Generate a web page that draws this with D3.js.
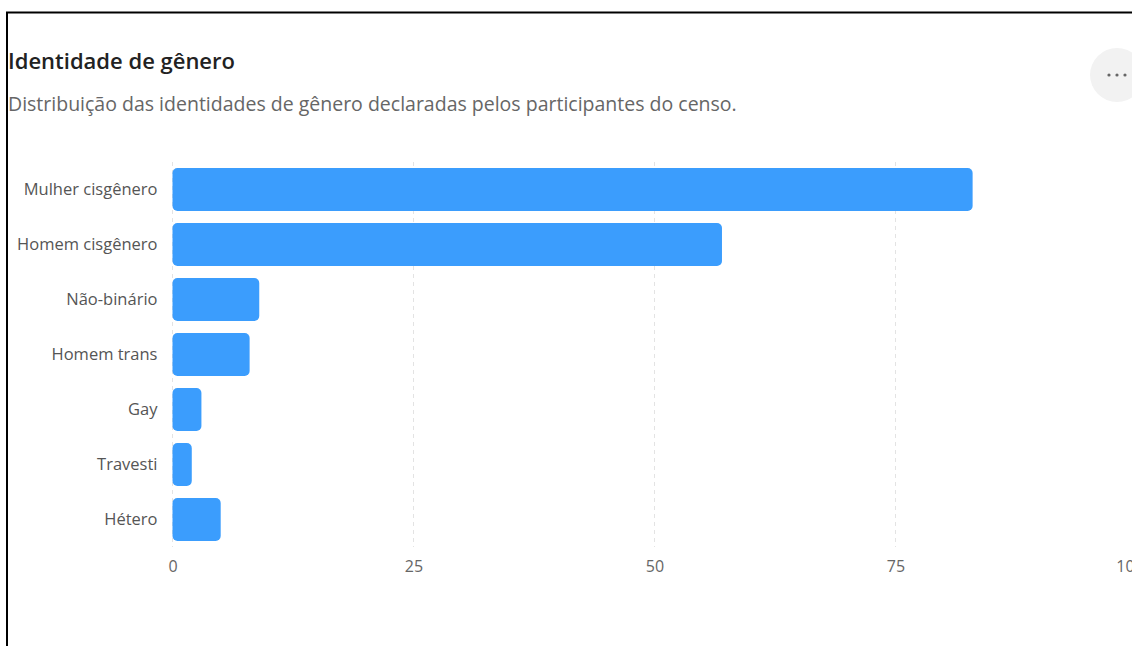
<!DOCTYPE html>
<html>
<head>
<meta charset="utf-8">
<script src="https://cdn.jsdelivr.net/npm/d3@7"></script>
<style>
  html, body { margin: 0; padding: 0; background: #fff; overflow: hidden; }
  svg { display: block; font-family: "Open Sans", "Noto Sans", sans-serif; }
</style>
</head>
<body>
<script>
const categories = ['Mulher cisgênero', 'Homem cisgênero', 'Não-binário', 'Homem trans', 'Gay', 'Travesti', 'Hétero']
const counts = [83, 57, 9, 8, 3, 2, 5]
const xTicks = [0, 25, 50, 75, 100]

const title = 'Identidade de gênero'
const subtitle = 'Distribuição das identidades de gênero declaradas pelos participantes do censo.'

const width = 1132
const height = 646
const plot = { left: 172.5, right: 1136.5, top: 162, bottom: 547 }

const svg = d3.select('body').append('svg')
    .attr('width', width)
    .attr('height', height)

// card frame (only top and left edges are in view)
svg.append('path')
    .attr('d', `M7,${height + 5} V12.5 H${width + 5}`)
    .style('fill', 'none')
    .style('stroke', '#000')
    .style('stroke-width', 2)

svg.append('text')
    .attr('x', 8)
    .attr('y', 69)
    .style('font-size', '22px')
    .style('font-weight', 600)
    .style('fill', '#222')
    .text(title)

svg.append('text')
    .attr('x', 8)
    .attr('y', 111)
    .style('font-size', '19.5px')
    .style('fill', '#666')
    .text(subtitle)

// "more" button
const more = svg.append('g').attr('transform', 'translate(1117, 75)')
more.append('circle').attr('r', 27).style('fill', '#f2f2f2')
more.selectAll('.dot')
    .data([-8, 0, 8])
    .enter().append('circle')
    .attr('class', 'dot')
    .attr('cx', d => d)
    .attr('r', 1.6)
    .style('fill', '#666')

const xScale = d3.scaleLinear()
    .domain([0, 100])
    .range([plot.left, plot.right])

const yScale = d3.scaleBand()
    .domain(categories)
    .range([plot.top, plot.bottom])
    .paddingInner(0.22)
    .paddingOuter(0.11)

// dashed grid
svg.append('g')
    .attr('class', 'grid')
    .selectAll('line')
    .data(xTicks)
    .enter().append('line')
    .attr('x1', d => xScale(d))
    .attr('x2', d => xScale(d))
    .attr('y1', plot.top)
    .attr('y2', plot.bottom)
    .style('stroke', '#e3e3e3')
    .style('stroke-width', 1)
    .style('stroke-dasharray', '4,4')

// x axis (labels only)
const xAxis = svg.append('g')
    .attr('class', 'x axis')
    .attr('transform', `translate(0, ${plot.bottom})`)
    .call(d3.axisBottom(xScale).tickValues(xTicks).tickSize(0).tickPadding(14))
xAxis.select('.domain').remove()
xAxis.selectAll('text')
    .style('font-family', '"Open Sans", "Noto Sans", sans-serif')
    .style('font-size', '16px')
    .style('fill', '#666')
// last label sits a little inside the edge, as in the original
xAxis.selectAll('.tick').filter(d => d === 100).select('text').attr('dx', -7)

// y axis (labels only)
const yAxis = svg.append('g')
    .attr('class', 'y axis')
    .attr('transform', `translate(${plot.left}, 0)`)
    .call(d3.axisLeft(yScale).tickSize(0).tickPadding(15))
yAxis.select('.domain').remove()
yAxis.selectAll('text')
    .style('font-family', '"Open Sans", "Noto Sans", sans-serif')
    .style('font-size', '16.5px')
    .style('fill', '#555')

svg.selectAll('.bar')
    .data(categories.map((c, i) => ({ category: c, count: counts[i] })))
    .enter().append('rect')
    .attr('class', 'bar')
    .attr('x', xScale(0))
    .attr('y', d => yScale(d.category))
    .attr('width', d => xScale(d.count) - xScale(0))
    .attr('height', yScale.bandwidth())
    .attr('rx', 5)
    .style('fill', '#3b9dfd')
</script>
</body>
</html>
